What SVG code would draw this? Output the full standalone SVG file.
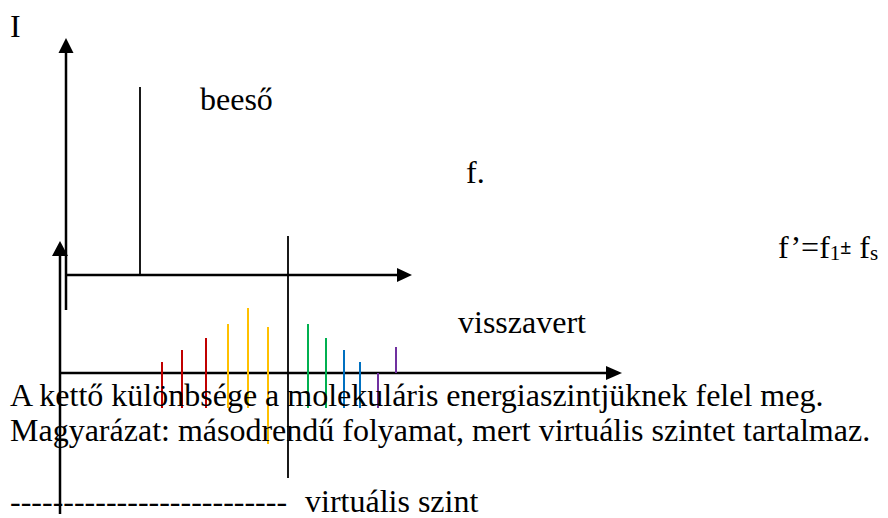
<svg xmlns="http://www.w3.org/2000/svg" width="888" height="518" viewBox="0 0 888 518">
<style>
.ax{stroke:#000;stroke-width:2.5;fill:none}
.ln{stroke:#000;stroke-width:1.8;fill:none}
.r{stroke:#C00000;stroke-width:2}
.y{stroke:#FFC000;stroke-width:2}
.g{stroke:#00B050;stroke-width:2}
.b{stroke:#0070C0;stroke-width:2}
.p{stroke:#7030A0;stroke-width:2}
</style>
<rect width="888" height="518" fill="#fff"/>
<g id="axes">
<line class="ax" x1="66" y1="50" x2="66" y2="310"/>
<polygon points="66,38 58.5,53 73.5,53"/>
<line class="ax" x1="66" y1="275" x2="400" y2="275"/>
<polygon points="412,275 397,268 397,282"/>
<line class="ax" x1="60" y1="252" x2="60" y2="514"/>
<polygon points="60,241 52,256 68,256"/>
<line class="ax" x1="60" y1="373" x2="610" y2="373"/>
<polygon points="622,373 606,366 606,380"/>
</g>
<g id="lines">
<line class="ln" x1="140" y1="87" x2="140" y2="275"/>
<line class="ln" x1="288" y1="236" x2="288" y2="478"/>
</g>
<g id="spectrum">
<line class="r" x1="162" y1="362" x2="162" y2="408"/>
<line class="r" x1="182" y1="350" x2="182" y2="408"/>
<line class="r" x1="206" y1="338" x2="206" y2="408"/>
<line class="y" x1="228" y1="324" x2="228" y2="408"/>
<line class="y" x1="248" y1="308" x2="248" y2="408"/>
<line class="y" x1="268" y1="327" x2="268" y2="444"/>
<line class="g" x1="308" y1="324" x2="308" y2="408"/>
<line class="g" x1="326" y1="338" x2="326" y2="408"/>
<line class="b" x1="344" y1="350" x2="344" y2="408"/>
<line class="b" x1="360" y1="362" x2="360" y2="408"/>
<line class="p" x1="378" y1="373" x2="378" y2="408"/>
<line class="p" x1="396" y1="347" x2="396" y2="373"/>
</g>
<g id="labels" font-family="Liberation Serif, Times New Roman, serif" font-size="32" fill="#000">
<text x="10" y="37">I</text>
<text x="200" y="110">beeső</text>
<text x="466" y="183">f.</text>
<text x="778" y="258">f’=f<tspan font-size="21" dy="2">1</tspan><tspan font-size="20" font-weight="bold" dy="-6">±</tspan><tspan dy="4"> f</tspan><tspan font-size="21" dy="2">s</tspan></text>
<text x="458" y="333">visszavert</text>
<text x="10" y="406">A kettő különbsége a molekuláris energiaszintjüknek felel meg.</text>
<text x="10" y="441">Magyarázat: másodrendű folyamat, mert virtuális szintet tartalmaz.</text>
<text x="10" y="512">--------------------------<tspan x="305">virtuális szint</tspan></text>
</g>
</svg>
